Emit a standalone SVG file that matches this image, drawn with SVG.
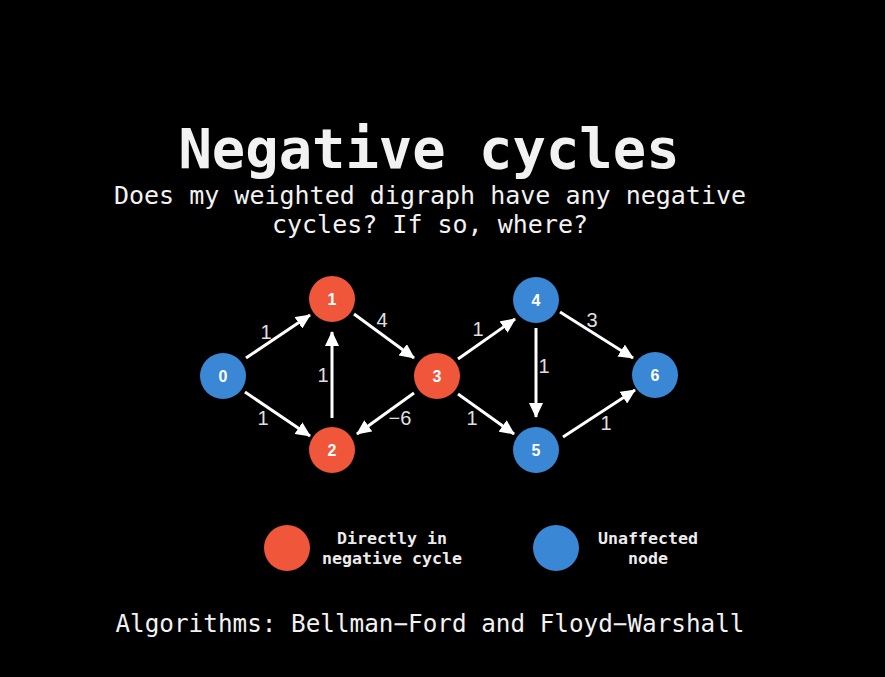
<svg xmlns="http://www.w3.org/2000/svg" width="885" height="677" viewBox="0 0 885 677">
<style>
.mono{font-family:"DejaVu Sans Mono","Liberation Mono",monospace;fill:#f2f2f2}
.nl{font-family:"Liberation Sans","DejaVu Sans",sans-serif;font-weight:bold;font-size:16px;fill:#fff;text-anchor:middle}
.el{font-family:"Liberation Sans","DejaVu Sans",sans-serif;font-size:20px;fill:#e0e0e0;text-anchor:middle}
.red{fill:#f0563a}
.blue{fill:#3a87d6}
.edge{stroke:#fff;stroke-width:3;fill:none;marker-end:url(#ah)}
.leg{font-family:"DejaVu Sans Mono","Liberation Mono",monospace;font-weight:bold;font-size:16.6px;fill:#ececec;text-anchor:middle}
</style>
<defs>
<marker id="ah" markerUnits="userSpaceOnUse" markerWidth="16" markerHeight="14" refX="14" refY="7" orient="auto">
<path d="M0,0 L15,7 L0,14 Z" fill="#fff"/>
</marker>
</defs>
<rect width="885" height="677" fill="#000"/>
<text class="mono" x="429" y="168" font-size="55.5" font-weight="bold" text-anchor="middle">Negative cycles</text>
<text class="mono" x="430" y="204" font-size="25" text-anchor="middle">Does my weighted digraph have any negative</text>
<text class="mono" x="430" y="233" font-size="25" text-anchor="middle">cycles? If so, where?</text>
<g id="connectors">
<line class="edge" x1="246" y1="358" x2="310" y2="315"/>
<line class="edge" x1="245" y1="392" x2="310" y2="436"/>
<line class="edge" x1="332" y1="418" x2="332" y2="332"/>
<line class="edge" x1="354" y1="314" x2="414" y2="358"/>
<line class="edge" x1="414" y1="393" x2="357" y2="434"/>
<line class="edge" x1="458" y1="359" x2="515" y2="319"/>
<line class="edge" x1="458" y1="394" x2="514" y2="434"/>
<line class="edge" x1="536" y1="328" x2="536" y2="417"/>
<line class="edge" x1="560" y1="312" x2="633" y2="358"/>
<line class="edge" x1="563" y1="437" x2="635" y2="390"/>
<text class="el" x="266" y="339">1</text>
<text class="el" x="263" y="425">1</text>
<text class="el" x="323" y="382">1</text>
<text class="el" x="382" y="327">4</text>
<text class="el" x="400" y="425">−6</text>
<text class="el" x="478" y="336">1</text>
<text class="el" x="472" y="425">1</text>
<text class="el" x="544" y="373">1</text>
<text class="el" x="592" y="327">3</text>
<text class="el" x="606" y="430">1</text>
</g>
<g id="node0"><circle class="blue" cx="223" cy="376" r="23"/><text class="nl" x="223" y="382">0</text></g>
<g id="node1"><circle class="red" cx="332" cy="299" r="23"/><text class="nl" x="332" y="305">1</text></g>
<g id="node2"><circle class="red" cx="332" cy="450" r="23"/><text class="nl" x="332" y="456">2</text></g>
<g id="node3"><circle class="red" cx="437" cy="376" r="23"/><text class="nl" x="437" y="382">3</text></g>
<g id="node4"><circle class="blue" cx="536" cy="300" r="23"/><text class="nl" x="536" y="306">4</text></g>
<g id="node5"><circle class="blue" cx="536" cy="450" r="23"/><text class="nl" x="536" y="456">5</text></g>
<g id="node6"><circle class="blue" cx="655" cy="375" r="23"/><text class="nl" x="655" y="381">6</text></g>
<g id="legend-red"><circle class="red" cx="287" cy="548" r="23"/><text class="leg" x="392" y="544">Directly in</text><text class="leg" x="392" y="564">negative cycle</text></g>
<g id="legend-blue"><circle class="blue" cx="556" cy="548" r="23"/><text class="leg" x="648" y="544">Unaffected</text><text class="leg" x="648" y="564">node</text></g>
<text class="mono" x="430" y="632" font-size="24.3" text-anchor="middle">Algorithms: Bellman−Ford and Floyd−Warshall</text>
</svg>
